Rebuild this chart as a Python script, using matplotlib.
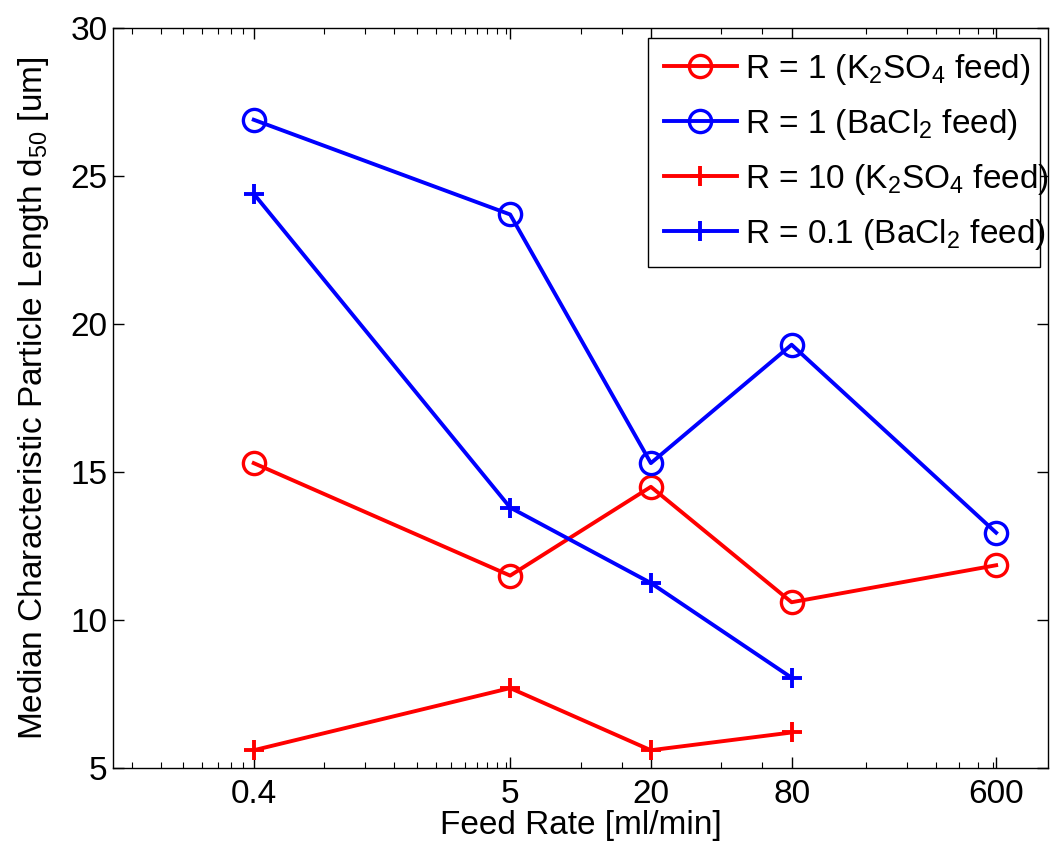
import numpy as np
import matplotlib
matplotlib.use("Agg")
import matplotlib.pyplot as plt
from matplotlib.patches import Rectangle
from matplotlib.ticker import FixedLocator, NullFormatter

plt.rcParams['font.family'] = ['Liberation Sans', 'DejaVu Sans']
plt.rcParams['mathtext.fontset'] = 'custom'
plt.rcParams['mathtext.rm'] = 'Liberation Sans'
plt.rcParams['mathtext.default'] = 'regular'

# feed rates [ml/min]
feed_all = [0.4, 5, 20, 80, 600]
feed_short = [0.4, 5, 20, 80]

# d50 values [um]
r1_k2so4 = [15.3, 11.5, 14.5, 10.6, 11.85]
r1_bacl2 = [26.9, 23.7, 15.3, 19.3, 12.95]
r10_k2so4 = [5.6, 7.7, 5.6, 6.2]
r01_bacl2 = [24.4, 13.8, 11.25, 8.05]

xticks = [0.4, 5, 20, 80, 600]
xticklabels = ["0.4", "5", "20", "80", "600"]

# minor ticks as MATLAB put them (linear between the major ones)
minor_x = (list(np.arange(0.12, 0.39, 0.04)) + list(np.arange(0.8, 4.9, 0.4))
           + [10, 15, 40, 60] + [1000/12*k for k in range(2, 8)])

W, H = 1051, 843
fig = plt.figure(figsize=(W/100, H/100), dpi=100)
ax = fig.add_axes([113/W, 1 - 768/H, (1048-113)/W, (768-28)/H])

lw = 2.8
ax.plot(feed_all, r1_k2so4, color='red', lw=lw, marker='o', ms=16, mew=2.4,
        mfc='none', label=r'R = 1 (K$_2$SO$_4$ feed)')
ax.plot(feed_all, r1_bacl2, color='blue', lw=lw, marker='o', ms=16, mew=2.4,
        mfc='none', label=r'R = 1 (BaCl$_2$ feed)')
ax.plot(feed_short, r10_k2so4, color='red', lw=lw, marker='+', ms=15, mew=2.8,
        label=r'R = 10 (K$_2$SO$_4$ feed)')
ax.plot(feed_short, r01_bacl2, color='blue', lw=lw, marker='+', ms=15, mew=2.8,
        label=r'R = 0.1 (BaCl$_2$ feed)')

ax.set_xscale('log')
ax.set_xlim(0.1, 1000)
ax.set_ylim(5, 30)
ax.xaxis.set_major_locator(FixedLocator(xticks))
ax.set_xticklabels(xticklabels)
ax.xaxis.set_minor_locator(FixedLocator(minor_x))
ax.xaxis.set_minor_formatter(NullFormatter())
ax.set_yticks([5, 10, 15, 20, 25, 30])

ax.tick_params(which='both', direction='in', top=True, right=True, labelsize=24)
ax.tick_params(which='major', length=8, width=1)
ax.tick_params(axis='x', which='major', pad=8)
ax.tick_params(axis='y', which='major', pad=4)
ax.tick_params(which='minor', length=4, width=0.8)
for s in ax.spines.values():
    s.set_linewidth(1)

ax.set_xlabel('Feed Rate [ml/min]', fontsize=24, labelpad=0)
ax.set_ylabel(r'Median Characteristic Particle Length d$_{50}$ [um]', fontsize=24, labelpad=14)

# MATLAB-style legend box (text overflows the frame slightly, as in the original)
frame = Rectangle((648/W, 1 - 267/H), (1040-648)/W, (267-38)/H, transform=fig.transFigure,
                  facecolor='white', edgecolor='black', lw=1, zorder=4.9, clip_on=False)
ax.add_patch(frame)
leg = ax.legend(loc='upper left', bbox_to_anchor=(652/W, 1 - 40/H), bbox_transform=fig.transFigure,
                fontsize=24, frameon=False, handlelength=2.2, borderpad=0.35,
                labelspacing=0.6, handletextpad=0.25, borderaxespad=0)

fig.savefig('out.png', dpi=100)
